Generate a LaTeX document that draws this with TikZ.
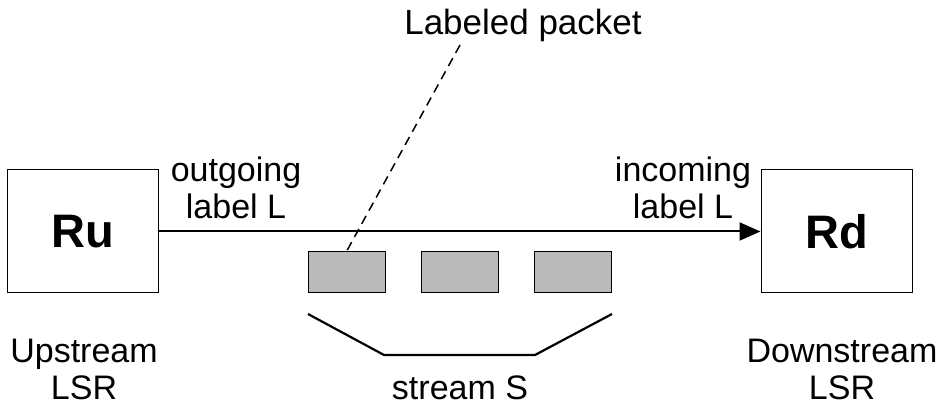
\documentclass[tikz,border=0pt]{standalone}
\usepackage{fontspec}
\setmainfont{Liberation Sans}
\usetikzlibrary{arrows.meta}
\begin{document}
\begin{tikzpicture}[x=1pt,y=1pt,
  router/.style={draw, line width=1pt, minimum width=151pt, minimum height=123pt, inner sep=0pt,
    font=\fontsize{47}{47}\selectfont\bfseries},
  packet/.style={draw, line width=1pt, fill=black!27, minimum width=77pt, minimum height=41pt, inner sep=0pt},
  lbl/.style={align=center, inner sep=0pt, font=\fontsize{34}{37}\selectfont},
  link/.style={line width=2pt, -{Triangle[length=21pt,width=18pt]}},
  brace/.style={line width=2.2pt},
  pointer/.style={line width=1.5pt, dash pattern=on 9pt off 6pt}]
\useasboundingbox (0,0) rectangle (947,409);
% routers
\node[router] (Ru) at (82.5,177.5) {Ru};
\node[router] (Rd) at (836.5,177.5) {Rd};
% link
\draw[link] (Ru.east) -- (Rd.west);
% packets
\node[packet] (p1) at (346.5,136.5) {};
\node[packet] (p2) at (460,136.5) {};
\node[packet] (p3) at (572.5,136.5) {};
% stream bracket
\coordinate (b1) at (308,95);
\coordinate (b2) at (384,54);
\coordinate (b3) at (535,54);
\coordinate (b4) at (612,95);
\draw[brace] (b1) -- (b2) -- (b3) -- (b4);
% labels
\node[lbl, anchor=base, font=\fontsize{35}{37}\selectfont] (lp) at (523,374) {Labeled packet};
\coordinate (d1) at (460,364);
\draw[pointer] (d1) -- (p1.north);
\node[lbl] (out) at (236,221) {outgoing\\label L};
\node[lbl] (inc) at (683,221) {incoming\\label L};
\node[lbl] (up) at (84,40) {Upstream\\LSR};
\node[lbl] (down) at (842,40) {Downstream\\LSR};
\node[lbl, anchor=base] (st) at (460,9) {stream S};
\end{tikzpicture}
\end{document}
